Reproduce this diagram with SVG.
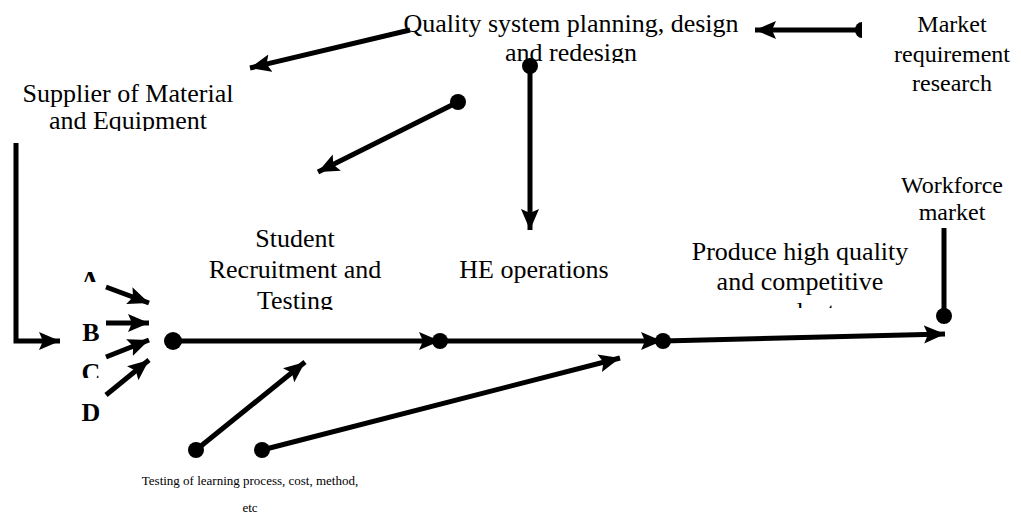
<svg xmlns="http://www.w3.org/2000/svg" width="1021" height="523" viewBox="0 0 1021 523">
<style>
text{font-family:"Liberation Serif","Times New Roman",serif;fill:#000;text-anchor:middle}
.lbl{font-size:26px}
.mk{font-size:24px}
.sm{font-size:13px}
.let{font-size:26px;font-weight:bold}
.c{stroke:#000;stroke-width:5;fill:none}
.dot{fill:#000}
</style>
<defs>
<marker id="ah" markerUnits="userSpaceOnUse" markerWidth="24" markerHeight="20" refX="21" refY="9" orient="auto">
<path d="M0,0 L21,9 L0,18 L4,9 z" fill="#000"/>
</marker>
<clipPath id="cq"><rect x="380" y="0" width="400" height="63"/></clipPath>
<clipPath id="cs"><rect x="0" y="70" width="260" height="61"/></clipPath>
<clipPath id="cst"><rect x="180" y="220" width="230" height="90"/></clipPath>
<clipPath id="cw"><rect x="870" y="160" width="151" height="62"/></clipPath>
<clipPath id="cp"><rect x="660" y="230" width="290" height="78"/></clipPath>
<clipPath id="ca"><rect x="70" y="260" width="40" height="22"/></clipPath>
<clipPath id="cc"><rect x="70" y="350" width="40" height="28"/></clipPath>
</defs>

<g id="quality">
<text class="lbl" clip-path="url(#cq)"><tspan x="571" y="32">Quality system planning, design</tspan><tspan x="571" y="61">and redesign</tspan></text>
</g>
<g id="market">
<text class="mk"><tspan x="952" y="32">Market</tspan><tspan x="952" y="62">requirement</tspan><tspan x="952" y="91">research</tspan></text>
</g>
<g id="supplier">
<text class="lbl" clip-path="url(#cs)"><tspan x="128" y="102">Supplier of Material</tspan><tspan x="128" y="129">and Equipment</tspan></text>
</g>
<g id="student">
<text class="lbl" clip-path="url(#cst)"><tspan x="295" y="247">Student</tspan><tspan x="295" y="278">Recruitment and</tspan><tspan x="295" y="309">Testing</tspan></text>
</g>
<g id="he">
<text class="lbl" x="534" y="278">HE operations</text>
</g>
<g id="produce">
<text class="lbl" clip-path="url(#cp)"><tspan x="800" y="260">Produce high quality</tspan><tspan x="800" y="290">and competitive</tspan><tspan x="800" y="320">products</tspan></text>
</g>
<g id="workforce">
<text class="mk" clip-path="url(#cw)"><tspan x="952" y="193">Workforce</tspan><tspan x="952" y="220">market</tspan></text>
</g>
<g id="letters">
<text class="let" x="90" y="289" clip-path="url(#ca)">A</text>
<text class="let" x="91" y="341">B</text>
<text class="let" x="91" y="381" clip-path="url(#cc)">C</text>
<text class="let" x="91" y="421">D</text>
</g>
<g id="testing">
<text class="sm"><tspan x="250" y="485">Testing of learning process, cost,  method,</tspan><tspan x="250" y="512">etc</tspan></text>
</g>

<g id="connectors">
<path class="c" d="M410,30 L250,68" marker-end="url(#ah)"/>
<path class="c" d="M860,30 L755,30" marker-end="url(#ah)"/>
<path d="M862,22 A7,8 0 0 0 862,38 Z" class="dot"/>
<path class="c" d="M458,102 L318,172" marker-end="url(#ah)"/>
<circle class="dot" cx="458" cy="102" r="8"/>
<path class="c" d="M530,66 L530,230" marker-end="url(#ah)"/>
<circle class="dot" cx="530" cy="66" r="8"/>
<path class="c" d="M16,143 L16,341 L60,341" marker-end="url(#ah)"/>
<path class="c" d="M106,287 L149,303" marker-end="url(#ah)"/>
<path class="c" d="M106,323 L149,323" marker-end="url(#ah)"/>
<path class="c" d="M106,357 L149,340" marker-end="url(#ah)"/>
<path class="c" d="M106,395 L149,360" marker-end="url(#ah)"/>
<circle class="dot" cx="173" cy="341" r="9"/>
<path class="c" d="M173,341 L440,341" marker-end="url(#ah)"/>
<circle class="dot" cx="440" cy="341" r="8"/>
<path class="c" d="M440,341 L662,341" marker-end="url(#ah)"/>
<circle class="dot" cx="663" cy="341" r="8"/>
<path class="c" d="M663,341 L945,334" marker-end="url(#ah)"/>
<path class="c" d="M944,228 L944,316"/>
<circle class="dot" cx="944" cy="316" r="8"/>
<path class="c" d="M196,450 L305,362" marker-end="url(#ah)"/>
<circle class="dot" cx="196" cy="450" r="8"/>
<path class="c" d="M262,450 L620,358" marker-end="url(#ah)"/>
<circle class="dot" cx="262" cy="450" r="8"/>
</g>
</svg>
